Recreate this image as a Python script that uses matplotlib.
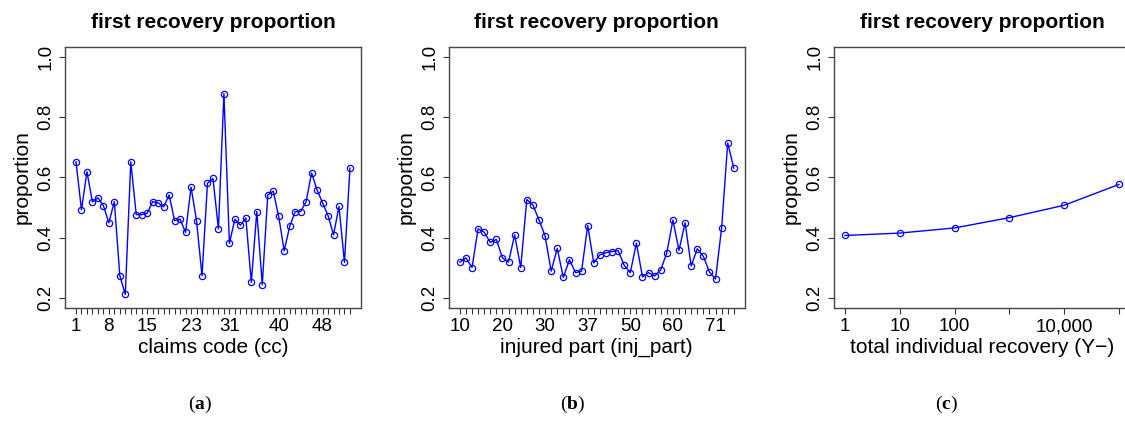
import numpy as np
import matplotlib.pyplot as plt

plt.rcParams['font.family'] = ['Liberation Sans', 'DejaVu Sans']
plt.rcParams['mathtext.fontset'] = 'custom'
plt.rcParams['mathtext.rm'] = 'Liberation Serif'
plt.rcParams['mathtext.bf'] = 'Liberation Serif:bold'

# proportion of first recovery by claims code
ccProp = [0.652, 0.493, 0.619, 0.519, 0.533, 0.507, 0.450, 0.520, 0.275, 0.213,
          0.652, 0.477, 0.477, 0.482, 0.520, 0.516, 0.503, 0.542, 0.457, 0.462,
          0.418, 0.568, 0.457, 0.275, 0.581, 0.597, 0.430, 0.878, 0.382, 0.462,
          0.442, 0.466, 0.253, 0.487, 0.245, 0.542, 0.555, 0.471, 0.357, 0.438,
          0.487, 0.487, 0.520, 0.615, 0.559, 0.516, 0.474, 0.410, 0.504, 0.319,
          0.631]
ccTickPos = [0, 6, 13, 21, 28, 37, 45]
ccTickLabels = ["1", "8", "15", "23", "31", "40", "48"]

# proportion of first recovery by injured part
injProp = [0.320, 0.334, 0.302, 0.430, 0.419, 0.385, 0.395, 0.334, 0.320, 0.410,
           0.302, 0.527, 0.509, 0.460, 0.407, 0.290, 0.365, 0.269, 0.328, 0.285,
           0.290, 0.441, 0.317, 0.344, 0.351, 0.355, 0.358, 0.309, 0.285, 0.383,
           0.271, 0.285, 0.274, 0.294, 0.351, 0.459, 0.359, 0.450, 0.307, 0.364,
           0.339, 0.287, 0.264, 0.433, 0.714, 0.631]
injTickPos = [0, 7, 14, 21, 28, 35, 42]
injTickLabels = ["10", "20", "30", "37", "50", "60", "71"]

# proportion of first recovery by total individual recovery
recLevels = [1, 10, 100, 1000, 10000, 100000]
recProp = [0.408, 0.416, 0.433, 0.467, 0.508, 0.577]
recTickLabels = ["1", "10", "100", "", "10,000", ""]

fig = plt.figure(figsize=(11.25, 4.21), dpi=100)


def panel(rect, x, y, xlabel, ticks, tickLabels, xlim, caption, capX, log=False):
    ax = fig.add_axes(rect)
    ax.plot(x, y, color="blue", lw=1, marker="o", ms=4.5, mfc="none", mew=0.9)
    if log:
        ax.set_xscale("log")
        ax.minorticks_off()
    ax.set_xlim(xlim)
    ax.set_ylim(0.168, 1.032)
    ax.set_xticks(ticks)
    ax.set_xticklabels(tickLabels)
    ax.set_yticks([0.2, 0.4, 0.6, 0.8, 1.0])
    ax.set_yticklabels(["0.2", "0.4", "0.6", "0.8", "1.0"], rotation=90, va="center")
    ax.tick_params(direction="out", length=4.5, width=0.8, labelsize=13.5, pad=3,
                   color="#333333")
    for s in ax.spines.values():
        s.set_color("#444444")
        s.set_linewidth(1)
    ax.set_title("first recovery proportion", fontsize=15, fontweight="bold", pad=14)
    ax.set_xlabel(xlabel, fontsize=15, labelpad=2)
    ax.set_ylabel("proportion", fontsize=15, labelpad=4)
    fig.text(capX, 0.04, r"($\mathbf{" + caption + "}$)", family="Liberation Serif",
             fontsize=14, ha="center", va="center")
    return ax


xa = np.arange(len(ccProp))
allA = [""] * len(ccProp)
for p, l in zip(ccTickPos, ccTickLabels):
    allA[p] = l
panel([0.0578, 0.2684, 0.263, 0.620], xa, ccProp, "claims code (cc)",
      xa, allA, (-2, len(ccProp) + 1), "a", 0.178)

xb = np.arange(len(injProp))
allB = [""] * len(injProp)
for p, l in zip(injTickPos, injTickLabels):
    allB[p] = l
panel([0.399, 0.2684, 0.263, 0.620], xb, injProp, "injured part (inj_part)",
      xb, allB, (-1.8, len(injProp) - 1 + 1.8), "b", 0.509)

panel([0.7413, 0.2684, 0.263, 0.620], recLevels, recProp, "total individual recovery (Y\u2212)",
      recLevels, recTickLabels, (10 ** -0.2, 10 ** 5.2), "c", 0.841, log=True)

plt.savefig("out.png", dpi=100)
